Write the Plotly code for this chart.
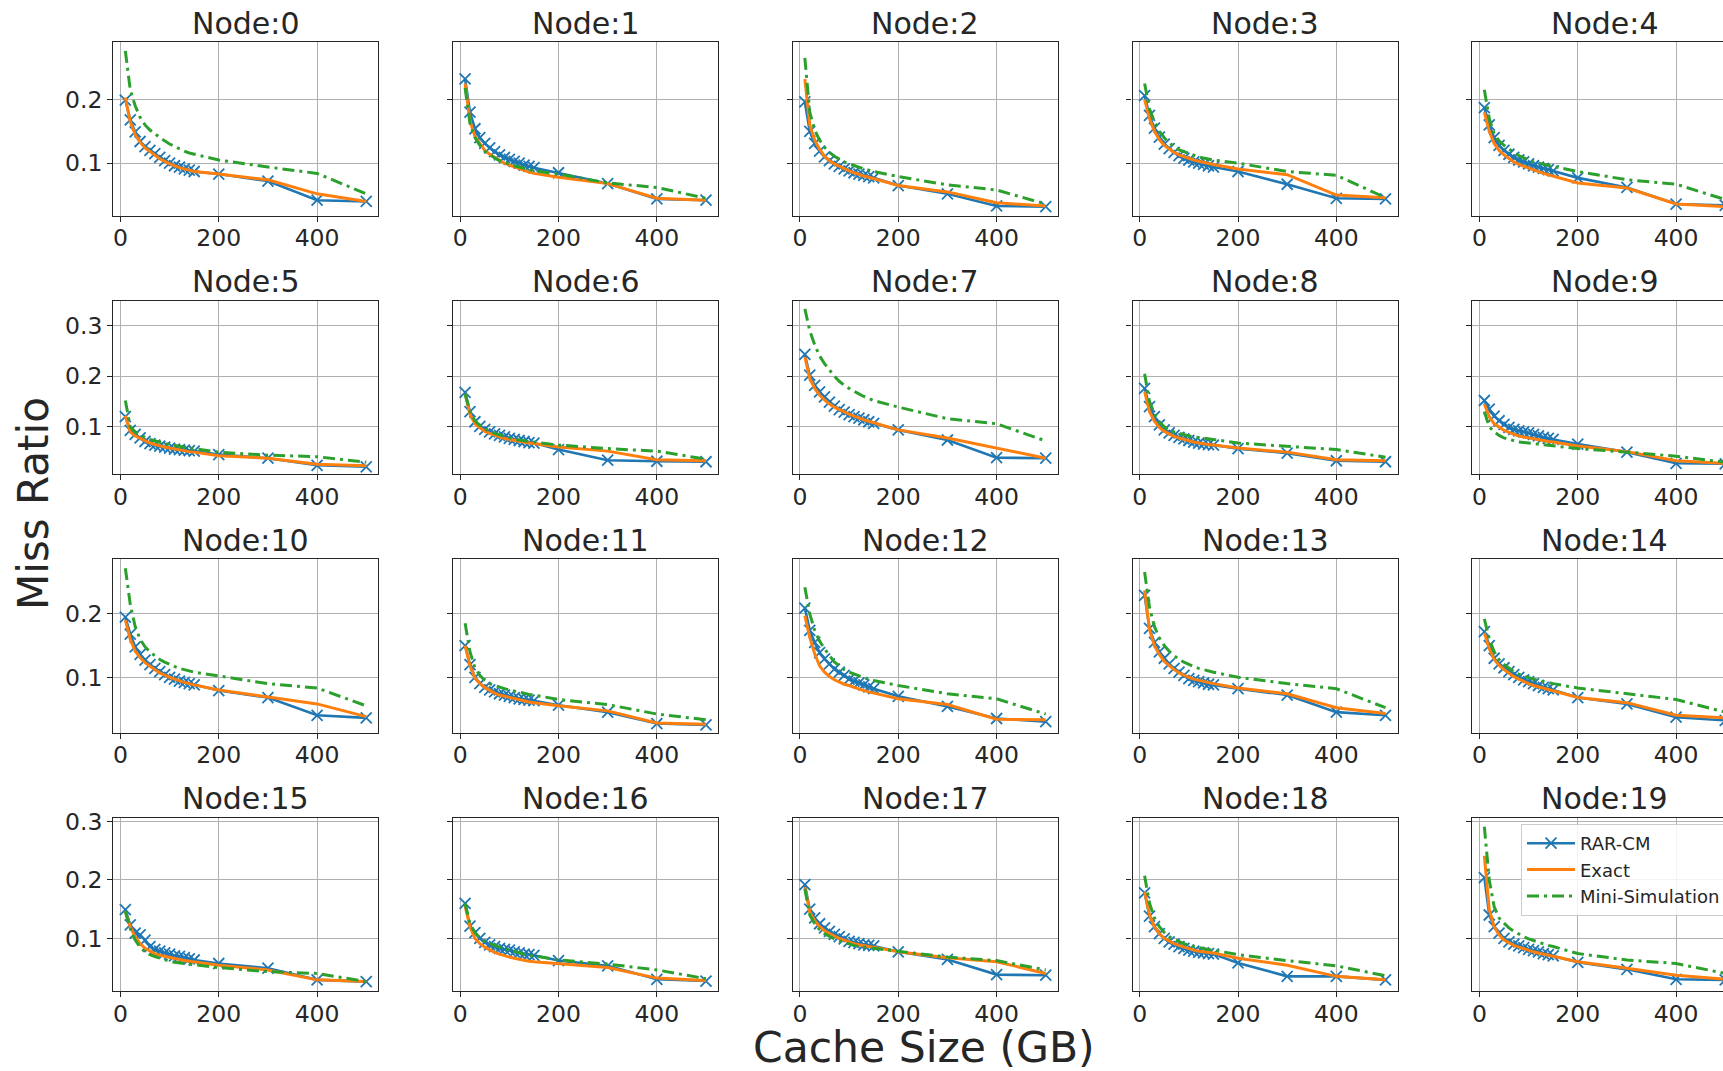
import plotly.graph_objects as go

# Cache sizes (GB) at which the miss ratio was evaluated
cache_gb = [10, 20, 30, 40, 50, 60, 70, 80, 90, 100, 110, 120, 130, 140, 150, 200, 300, 400, 500]

node_titles = [f"Node:{i}" for i in range(20)]
series_names = ["RAR-CM", "Exact", "Mini-Simulation"]

# Miss ratio per node, one list per node
rar_cm = [
    [0.199, 0.168, 0.149, 0.134, 0.126, 0.120, 0.115, 0.109, 0.104, 0.100, 0.096, 0.094, 0.091, 0.089, 0.087, 0.083, 0.072, 0.042, 0.040],
    [0.232, 0.180, 0.154, 0.140, 0.131, 0.124, 0.118, 0.113, 0.109, 0.106, 0.103, 0.100, 0.097, 0.095, 0.093, 0.085, 0.068, 0.044, 0.042],
    [0.196, 0.150, 0.131, 0.119, 0.110, 0.104, 0.099, 0.095, 0.091, 0.088, 0.085, 0.083, 0.081, 0.079, 0.077, 0.065, 0.052, 0.033, 0.032],
    [0.206, 0.175, 0.155, 0.141, 0.130, 0.123, 0.117, 0.112, 0.108, 0.105, 0.102, 0.100, 0.098, 0.096, 0.094, 0.087, 0.067, 0.045, 0.044],
    [0.187, 0.160, 0.140, 0.128, 0.120, 0.114, 0.109, 0.105, 0.102, 0.099, 0.096, 0.094, 0.092, 0.090, 0.088, 0.077, 0.062, 0.036, 0.034],
    [0.120, 0.093, 0.085, 0.078, 0.071, 0.067, 0.064, 0.062, 0.060, 0.058, 0.056, 0.055, 0.054, 0.053, 0.052, 0.045, 0.038, 0.024, 0.021],
    [0.168, 0.130, 0.110, 0.101, 0.095, 0.090, 0.086, 0.083, 0.080, 0.077, 0.075, 0.073, 0.071, 0.069, 0.068, 0.055, 0.034, 0.032, 0.031],
    [0.243, 0.202, 0.182, 0.169, 0.159, 0.149, 0.141, 0.134, 0.129, 0.124, 0.120, 0.117, 0.114, 0.110, 0.107, 0.094, 0.074, 0.039, 0.038],
    [0.176, 0.140, 0.120, 0.104, 0.094, 0.088, 0.083, 0.079, 0.076, 0.073, 0.070, 0.068, 0.066, 0.065, 0.064, 0.057, 0.048, 0.033, 0.031],
    [0.152, 0.135, 0.121, 0.112, 0.105, 0.099, 0.095, 0.092, 0.090, 0.088, 0.085, 0.082, 0.079, 0.077, 0.075, 0.066, 0.050, 0.028, 0.027],
    [0.195, 0.168, 0.148, 0.136, 0.127, 0.120, 0.114, 0.109, 0.104, 0.100, 0.097, 0.094, 0.092, 0.090, 0.088, 0.079, 0.068, 0.040, 0.036],
    [0.150, 0.120, 0.100, 0.090, 0.084, 0.080, 0.077, 0.074, 0.072, 0.070, 0.068, 0.066, 0.065, 0.064, 0.063, 0.056, 0.045, 0.027, 0.025],
    [0.209, 0.174, 0.155, 0.139, 0.129, 0.121, 0.113, 0.108, 0.103, 0.097, 0.094, 0.091, 0.088, 0.085, 0.082, 0.070, 0.054, 0.035, 0.030],
    [0.229, 0.177, 0.155, 0.140, 0.130, 0.121, 0.114, 0.108, 0.103, 0.098, 0.095, 0.093, 0.091, 0.089, 0.088, 0.082, 0.072, 0.045, 0.040],
    [0.172, 0.150, 0.130, 0.121, 0.115, 0.109, 0.104, 0.100, 0.096, 0.093, 0.090, 0.087, 0.084, 0.082, 0.080, 0.068, 0.058, 0.037, 0.032],
    [0.149, 0.123, 0.109, 0.106, 0.097, 0.086, 0.081, 0.078, 0.075, 0.073, 0.070, 0.069, 0.067, 0.065, 0.063, 0.057, 0.049, 0.029, 0.026],
    [0.160, 0.121, 0.110, 0.100, 0.093, 0.089, 0.086, 0.083, 0.081, 0.080, 0.077, 0.075, 0.073, 0.072, 0.071, 0.062, 0.053, 0.030, 0.027],
    [0.192, 0.150, 0.135, 0.125, 0.118, 0.112, 0.107, 0.103, 0.099, 0.095, 0.093, 0.091, 0.089, 0.088, 0.087, 0.077, 0.064, 0.038, 0.037],
    [0.178, 0.138, 0.120, 0.108, 0.100, 0.094, 0.090, 0.086, 0.083, 0.080, 0.078, 0.076, 0.075, 0.074, 0.073, 0.058, 0.035, 0.035, 0.029],
    [0.204, 0.140, 0.120, 0.109, 0.100, 0.094, 0.090, 0.087, 0.084, 0.081, 0.079, 0.077, 0.074, 0.072, 0.070, 0.059, 0.047, 0.030, 0.029],
]

exact = [
    [0.203, 0.165, 0.145, 0.133, 0.124, 0.118, 0.112, 0.107, 0.103, 0.099, 0.096, 0.093, 0.091, 0.089, 0.087, 0.083, 0.074, 0.052, 0.040],
    [0.225, 0.166, 0.142, 0.130, 0.120, 0.114, 0.109, 0.104, 0.100, 0.097, 0.094, 0.091, 0.088, 0.086, 0.084, 0.078, 0.068, 0.045, 0.042],
    [0.232, 0.160, 0.136, 0.122, 0.111, 0.104, 0.099, 0.095, 0.091, 0.088, 0.085, 0.082, 0.080, 0.078, 0.076, 0.065, 0.055, 0.038, 0.033],
    [0.200, 0.170, 0.150, 0.137, 0.128, 0.122, 0.117, 0.113, 0.110, 0.107, 0.105, 0.103, 0.101, 0.099, 0.098, 0.091, 0.082, 0.050, 0.046],
    [0.180, 0.150, 0.131, 0.120, 0.113, 0.107, 0.102, 0.098, 0.095, 0.092, 0.089, 0.087, 0.084, 0.082, 0.080, 0.069, 0.061, 0.036, 0.032],
    [0.122, 0.090, 0.082, 0.077, 0.072, 0.068, 0.065, 0.062, 0.060, 0.058, 0.056, 0.054, 0.052, 0.051, 0.050, 0.043, 0.038, 0.026, 0.023],
    [0.165, 0.125, 0.106, 0.098, 0.091, 0.087, 0.083, 0.080, 0.077, 0.075, 0.073, 0.071, 0.069, 0.068, 0.067, 0.060, 0.052, 0.035, 0.033],
    [0.238, 0.196, 0.176, 0.163, 0.153, 0.145, 0.139, 0.134, 0.129, 0.125, 0.121, 0.117, 0.114, 0.111, 0.108, 0.094, 0.078, 0.058, 0.038],
    [0.170, 0.130, 0.111, 0.099, 0.091, 0.086, 0.081, 0.078, 0.075, 0.072, 0.070, 0.068, 0.066, 0.065, 0.064, 0.058, 0.050, 0.035, 0.033],
    [0.145, 0.120, 0.106, 0.099, 0.093, 0.089, 0.085, 0.082, 0.080, 0.078, 0.076, 0.074, 0.072, 0.071, 0.070, 0.062, 0.051, 0.033, 0.028],
    [0.190, 0.160, 0.141, 0.131, 0.123, 0.117, 0.112, 0.107, 0.103, 0.100, 0.097, 0.094, 0.092, 0.090, 0.088, 0.080, 0.069, 0.058, 0.038],
    [0.150, 0.118, 0.099, 0.090, 0.084, 0.079, 0.075, 0.072, 0.070, 0.068, 0.066, 0.064, 0.062, 0.061, 0.060, 0.055, 0.047, 0.028, 0.026],
    [0.197, 0.163, 0.137, 0.118, 0.108, 0.101, 0.096, 0.092, 0.089, 0.087, 0.084, 0.081, 0.079, 0.077, 0.075, 0.066, 0.057, 0.034, 0.033],
    [0.237, 0.175, 0.150, 0.136, 0.125, 0.118, 0.112, 0.107, 0.103, 0.100, 0.097, 0.095, 0.093, 0.091, 0.090, 0.083, 0.074, 0.052, 0.043],
    [0.170, 0.145, 0.128, 0.119, 0.112, 0.106, 0.101, 0.097, 0.093, 0.090, 0.087, 0.085, 0.082, 0.080, 0.078, 0.068, 0.060, 0.040, 0.036],
    [0.146, 0.120, 0.103, 0.091, 0.083, 0.078, 0.074, 0.071, 0.069, 0.067, 0.065, 0.063, 0.062, 0.061, 0.060, 0.054, 0.046, 0.029, 0.026],
    [0.155, 0.120, 0.100, 0.091, 0.085, 0.080, 0.076, 0.073, 0.070, 0.068, 0.066, 0.064, 0.062, 0.061, 0.060, 0.057, 0.050, 0.032, 0.028],
    [0.188, 0.145, 0.130, 0.120, 0.113, 0.108, 0.104, 0.100, 0.097, 0.093, 0.091, 0.089, 0.087, 0.086, 0.085, 0.077, 0.067, 0.060, 0.040],
    [0.180, 0.140, 0.120, 0.108, 0.100, 0.095, 0.091, 0.088, 0.085, 0.082, 0.080, 0.078, 0.077, 0.076, 0.075, 0.066, 0.054, 0.035, 0.029],
    [0.241, 0.149, 0.120, 0.106, 0.097, 0.092, 0.088, 0.085, 0.082, 0.080, 0.077, 0.075, 0.073, 0.071, 0.069, 0.060, 0.049, 0.037, 0.030],
]

mini_simulation = [
    [0.276, 0.215, 0.190, 0.172, 0.160, 0.152, 0.146, 0.140, 0.135, 0.130, 0.126, 0.122, 0.119, 0.116, 0.114, 0.105, 0.094, 0.084, 0.052],
    [0.218, 0.162, 0.140, 0.128, 0.119, 0.113, 0.108, 0.104, 0.101, 0.098, 0.096, 0.094, 0.092, 0.090, 0.088, 0.083, 0.069, 0.062, 0.045],
    [0.265, 0.180, 0.152, 0.136, 0.125, 0.117, 0.111, 0.106, 0.102, 0.099, 0.096, 0.093, 0.091, 0.089, 0.087, 0.079, 0.066, 0.058, 0.036],
    [0.225, 0.185, 0.165, 0.150, 0.140, 0.132, 0.126, 0.121, 0.118, 0.115, 0.112, 0.110, 0.108, 0.106, 0.105, 0.100, 0.087, 0.081, 0.046],
    [0.215, 0.170, 0.146, 0.135, 0.128, 0.122, 0.117, 0.112, 0.108, 0.105, 0.102, 0.100, 0.098, 0.096, 0.095, 0.087, 0.074, 0.067, 0.043],
    [0.152, 0.100, 0.090, 0.084, 0.079, 0.075, 0.072, 0.069, 0.067, 0.065, 0.063, 0.061, 0.059, 0.058, 0.057, 0.050, 0.044, 0.041, 0.030],
    [0.165, 0.130, 0.112, 0.103, 0.096, 0.091, 0.087, 0.084, 0.081, 0.078, 0.076, 0.074, 0.072, 0.071, 0.070, 0.064, 0.057, 0.052, 0.036],
    [0.333, 0.290, 0.262, 0.240, 0.225, 0.212, 0.200, 0.190, 0.182, 0.176, 0.170, 0.165, 0.160, 0.156, 0.152, 0.139, 0.116, 0.106, 0.072],
    [0.205, 0.150, 0.126, 0.110, 0.100, 0.094, 0.090, 0.087, 0.085, 0.082, 0.080, 0.079, 0.077, 0.076, 0.075, 0.068, 0.061, 0.055, 0.040],
    [0.130, 0.100, 0.090, 0.083, 0.078, 0.075, 0.072, 0.070, 0.069, 0.068, 0.066, 0.065, 0.064, 0.063, 0.062, 0.057, 0.050, 0.042, 0.030],
    [0.272, 0.215, 0.180, 0.160, 0.148, 0.140, 0.134, 0.128, 0.124, 0.120, 0.117, 0.114, 0.112, 0.110, 0.108, 0.102, 0.090, 0.083, 0.055],
    [0.185, 0.140, 0.115, 0.103, 0.095, 0.090, 0.087, 0.084, 0.082, 0.080, 0.078, 0.076, 0.074, 0.073, 0.072, 0.065, 0.057, 0.042, 0.033],
    [0.242, 0.200, 0.174, 0.157, 0.145, 0.135, 0.124, 0.118, 0.112, 0.108, 0.105, 0.102, 0.099, 0.097, 0.095, 0.087, 0.074, 0.066, 0.042],
    [0.266, 0.210, 0.180, 0.162, 0.150, 0.141, 0.134, 0.128, 0.124, 0.120, 0.117, 0.114, 0.112, 0.110, 0.108, 0.100, 0.090, 0.082, 0.052],
    [0.192, 0.160, 0.140, 0.128, 0.120, 0.114, 0.109, 0.105, 0.102, 0.100, 0.097, 0.095, 0.093, 0.091, 0.090, 0.083, 0.074, 0.065, 0.045],
    [0.146, 0.117, 0.097, 0.085, 0.077, 0.072, 0.069, 0.066, 0.063, 0.061, 0.059, 0.058, 0.057, 0.056, 0.055, 0.050, 0.043, 0.040, 0.026],
    [0.160, 0.125, 0.110, 0.101, 0.095, 0.091, 0.088, 0.085, 0.082, 0.080, 0.078, 0.075, 0.073, 0.071, 0.070, 0.063, 0.056, 0.046, 0.031],
    [0.185, 0.140, 0.125, 0.115, 0.108, 0.103, 0.099, 0.096, 0.093, 0.090, 0.088, 0.086, 0.085, 0.084, 0.083, 0.077, 0.068, 0.062, 0.046],
    [0.207, 0.160, 0.135, 0.120, 0.110, 0.103, 0.098, 0.094, 0.091, 0.088, 0.086, 0.084, 0.082, 0.081, 0.080, 0.072, 0.062, 0.053, 0.036],
    [0.291, 0.200, 0.154, 0.135, 0.126, 0.118, 0.112, 0.107, 0.103, 0.099, 0.096, 0.093, 0.090, 0.088, 0.086, 0.074, 0.063, 0.057, 0.040],
]

x_ticks = [0, 200, 400]
y_ticks_by_row = [[0.1, 0.2], [0.1, 0.2, 0.3], [0.1, 0.2], [0.1, 0.2, 0.3]]
y_range_by_row = [[0.0177, 0.2895], [0.0064, 0.349], [0.0126, 0.286], [0.0096, 0.3063]]

# ---- page geometry (pixels) ----
W, H = 1723, 1071
N_ROWS, N_COLS = 4, 5
AX_LEFT0, AX_DX, AX_W = 113.3, 339.75, 265.0
AX_TOP0, AX_DY, AX_H = 42.3, 258.5, 173.4
X_RANGE = [-14.5, 524.5]

FONT = "DejaVu Sans"
INK = "#262626"
BLUE, ORANGE, GREEN = "#1f77b4", "#ff7f0e", "#2ca02c"

fig = go.Figure()
layout = dict(
    width=W, height=H,
    margin=dict(l=0, r=0, t=0, b=0, autoexpand=False),
    paper_bgcolor="white", plot_bgcolor="white",
    font=dict(family=FONT, color=INK),
    showlegend=True,
    legend=dict(
        x=1521 / W, y=1 - 824 / H, xanchor="left", yanchor="top",
        font=dict(family=FONT, size=18, color=INK),
        bgcolor="rgba(255,255,255,0.85)", bordercolor="#cccccc", borderwidth=1,
        tracegroupgap=0, itemwidth=48,
    ),
)
annotations = []

for i in range(N_ROWS * N_COLS):
    r, c = divmod(i, N_COLS)
    left = AX_LEFT0 + c * AX_DX
    right = min(left + AX_W, W)
    top = AX_TOP0 + r * AX_DY
    bottom = top + AX_H
    suffix = "" if i == 0 else str(i + 1)
    xref, yref = "x" + suffix, "y" + suffix

    if right < left + AX_W:  # last column runs past the page edge
        x_range = [X_RANGE[0], X_RANGE[0] + (right - left) / AX_W * (X_RANGE[1] - X_RANGE[0])]
    else:
        x_range = X_RANGE

    axis_common = dict(
        showline=True, linecolor=INK, linewidth=1.3,
        ticks="outside", ticklen=5, tickwidth=1.2, tickcolor=INK,
        showgrid=True, gridcolor="#b0b0b0", gridwidth=1, zeroline=False,
        tickfont=dict(family=FONT, size=23.5, color=INK),
    )
    layout["xaxis" + suffix] = dict(
        axis_common, domain=[left / W, right / W], anchor=yref,
        range=x_range, tickvals=x_ticks, ticktext=[str(v) for v in x_ticks],
        mirror=True, ticklabelstandoff=-4,
    )
    layout["yaxis" + suffix] = dict(
        axis_common, domain=[1 - bottom / H, 1 - top / H], anchor=xref,
        range=y_range_by_row[r], tickvals=y_ticks_by_row[r],
        ticktext=[f"{v:.1f}" for v in y_ticks_by_row[r]],
        showticklabels=(c == 0), mirror=(right >= left + AX_W),
    )

    show = (i == N_ROWS * N_COLS - 1)
    fig.add_trace(go.Scatter(
        x=cache_gb, y=rar_cm[i], name=series_names[0], mode="lines+markers",
        line=dict(color=BLUE, width=2.6),
        marker=dict(symbol="x-thin", size=11, line=dict(color=BLUE, width=1.8)),
        xaxis=xref, yaxis=yref, showlegend=show,
    ))
    fig.add_trace(go.Scatter(
        x=cache_gb, y=exact[i], name=series_names[1], mode="lines",
        line=dict(color=ORANGE, width=3),
        xaxis=xref, yaxis=yref, showlegend=show,
    ))
    fig.add_trace(go.Scatter(
        x=cache_gb, y=mini_simulation[i], name=series_names[2], mode="lines",
        line=dict(color=GREEN, width=3, dash="12px,5px,3px,5px"),
        xaxis=xref, yaxis=yref, showlegend=show,
    ))

    annotations.append(dict(
        text=node_titles[i], xref="paper", yref="paper",
        x=(left + AX_W / 2) / W, y=1 - (top - 19) / H,
        xanchor="center", yanchor="middle", showarrow=False,
        font=dict(family=FONT, size=30, color=INK),
    ))

annotations.append(dict(
    text="Cache Size (GB)", xref="paper", yref="paper",
    x=924 / W, y=1 - 1047 / H, xanchor="center", yanchor="middle",
    showarrow=False, font=dict(family=FONT, size=42.5, color=INK),
))
annotations.append(dict(
    text="Miss Ratio", xref="paper", yref="paper",
    x=33 / W, y=1 - 504 / H, xanchor="center", yanchor="middle",
    textangle=-90, showarrow=False, font=dict(family=FONT, size=42, color=INK),
))

layout["annotations"] = annotations
fig.update_layout(**layout)
fig.write_html("out.html")
